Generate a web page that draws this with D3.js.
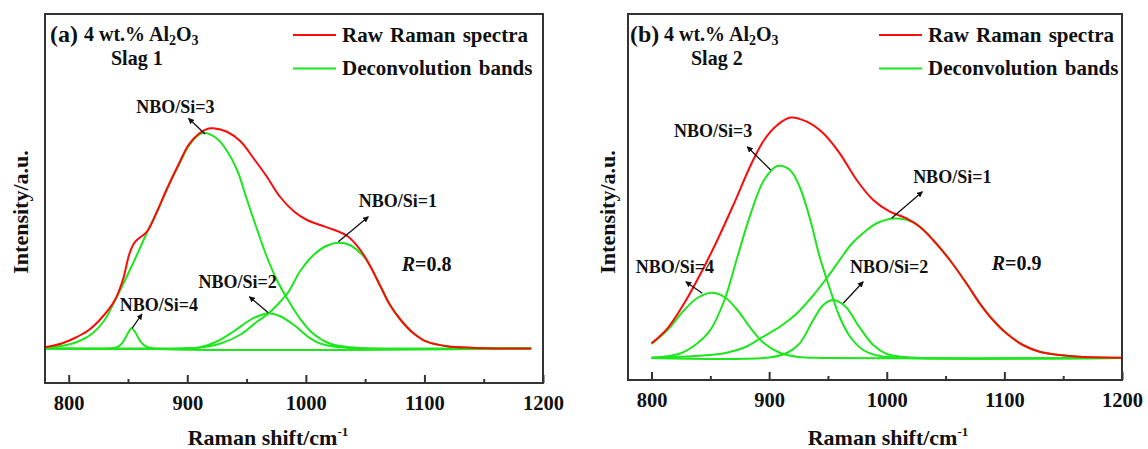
<!DOCTYPE html>
<html><head><meta charset="utf-8">
<script src="https://cdn.jsdelivr.net/npm/d3@7"></script>
<style>
html,body{margin:0;padding:0;background:#fff;}
svg{display:block;}
text{font-family:"Liberation Serif","Times New Roman",serif;font-weight:bold;fill:#111;}
</style></head><body>
<svg id="chart" width="1148" height="449"></svg>
<script>
// ---------------- data (Raman shift cm-1, intensity a.u.) ----------------
const xMajorTicks = [800, 900, 1000, 1100, 1200];
const xMinorTicks = [850, 950, 1050, 1150];
const legendLabels = ["Raw Raman spectra", "Deconvolution bands"];
const bandNames = ["NBO/Si=1", "NBO/Si=2", "NBO/Si=3", "NBO/Si=4"];
const panelNames = ["(a)", "(b)"];
const slagNames = ["Slag 1", "Slag 2"];
const rValues = ["0.8", "0.9"];

// Panel (a) – Slag 1
const rawA = [[780,1.2],[794,5],[806,11],[817,18.5],[828,31],[839,48.5],[846,70],[851,94],[855,105],[859,110],[863,113.5],[867,118.5],[875,138.5],[883,160],[893,185],[901,203.5],[910,215],[918,220],[922,220.2],[933,217],[945,207],[956,190],[967,172],[978,152],[990,137],[1001,128.5],[1012,123.5],[1023,119],[1035,112.5],[1046,98.5],[1054,83],[1063,62],[1071,43.5],[1080,28.5],[1091,15],[1102,6.8],[1119,2.3],[1139,0.7],[1160,0.1],[1190,0]];
const band1A = [[780,0],[900,0.3],[911,1],[928,5],[945,14],[959,27],[968.5,35],[977,45],[985,56],[995,77],[1006,93],[1018,103],[1027.5,105.8],[1037,103.5],[1049,91.8],[1054,83],[1063,62],[1071,43.5],[1080,28.5],[1091,15],[1102,6.8],[1119,2.3],[1139,0.7],[1160,0.1],[1190,0]];
const band2A = [[780,0],[900,0],[911,1.2],[925,7],[939,17],[953,28.5],[961,33],[968.5,35.2],[978,32.5],[990,23.5],[1001,12.5],[1012,5],[1029,1.2],[1050,0],[1190,0]];
const band3A = [[780,0],[790,2],[800,4],[810,8],[820,15],[830,28],[839,48],[853,82],[867,118.5],[875,138],[883,160],[893,184],[901,202],[908,212],[914,215.8],[925,210],[933,198.5],[942,178.5],[950,150],[959,118.5],[967,92],[975.5,68.5],[985,48.5],[995,30],[1006,15],[1020,5],[1037,1.2],[1060,0],[1190,0]];
const band4A = [[780,0],[834,0],[840,1],[844,4],[847,9],[850,15.5],[853,20.2],[856,16.5],[859,10],[862,5],[866,1.5],[872,0],[1190,0]];

// Panel (b) – Slag 2
const rawB = [[800,14.7],[813.6,29.7],[827.8,54.7],[841.9,84.7],[856,118],[870.2,154.7],[884.4,193],[895.7,218],[907,233],[918,240.5],[932,236.3],[946,224.7],[960,204.7],[974.4,178],[988.5,158],[1002.6,146.3],[1016.8,139.7],[1028,131.3],[1039.4,118],[1053.6,98],[1067.7,74.7],[1079,54.7],[1090.3,38],[1101.7,24.7],[1115.8,13],[1130,6.3],[1147,3],[1164,1.3],[1200,0.3]];
const band1B = [[800,0.5],[830,1.5],[863,5],[880,11],[893,20],[910,32],[924,45],[937,62],[949,80],[960,98],[970,114],[981,126],[992,135],[1007,139.5],[1022,136],[1035,124],[1039.4,118],[1053.6,98],[1067.7,74.7],[1079,54.7],[1090.3,38],[1101.7,24.7],[1115.8,13],[1130,6.3],[1147,3],[1164,1.3],[1200,0.3]];
const band2B = [[800,0],[900,0.5],[915,5],[926,14.7],[937.5,38],[946,53],[954.5,58],[965,51.3],[976.5,31.3],[988.5,13],[1000,4],[1015,1],[1030,0],[1200,0]];
const band3B = [[800,0],[805,0.5],[825,4.7],[839,14.7],[850,28],[862,58],[873,101],[884.4,144.7],[895.7,178],[907,192],[917.7,188],[926,171],[935,138],[943,101],[952,68],[960,41],[969,21],[980,8],[994,2],[1020,0],[1200,0]];
const band4B = [[800,14],[813.6,28],[827.8,48],[839,60],[851,65.3],[862,61],[873,48],[884.4,29.7],[895.7,14.7],[910,4.7],[925,1],[945,0],[1200,0]];

// ---------------- layout ----------------
const RED = "#ff0a0a", GREEN = "#1de61d";
const panels = [
  { raw: rawA, bands: [band1A, band2A, band3A, band4A],
    left: 45, right: 543, top: 14, bottom: 383, yDomain: [-34.5, 334.5],
    xTitleX: 268, yTitleX: 20, headerX: 50, legendX: 293,
    notes: [[2, 890, 235.5, 915, 214.5, 901, 230.2],
            [3, 876, 37.8, 853.4, 20.2, 861.8, 34.5],
            [1, 942.4, 60.2, 968.3, 35.8, 952.3, 51.8],
            [0, 1077.7, 141.8, 1027.4, 106.8, 1052.7, 131.8]],
    rPos: [1080.8, 77.8] },
  { raw: rawB, bands: [band1B, band2B, band3B, band4B],
    left: 628, right: 1122, top: 14, bottom: 380, yDomain: [-22, 344],
    xTitleX: 888, yTitleX: 607, headerX: 630, legendX: 879,
    notes: [[2, 852.4, 220.7, 901.3, 188, 881.4, 211.3],
            [3, 819.9, 84.7, 843.2, 64.7, 829.1, 76.3],
            [1, 1002.1, 84.7, 963, 54.7, 980, 76.3],
            [0, 1055.7, 175.3, 1004.1, 139.7, 1030.3, 166.3]],
    rPos: [1089.2, 88] }
];

const svg = d3.select("#chart");
const defs = svg.append("defs");
defs.append("marker").attr("id", "arrow").attr("viewBox", "0 0 10 10")
  .attr("refX", 9).attr("refY", 5).attr("markerWidth", 6).attr("markerHeight", 6)
  .attr("markerUnits", "userSpaceOnUse").attr("orient", "auto")
  .append("path").attr("d", "M0,0 L10,5 L0,10 z").attr("fill", "#111");

panels.forEach((p, i) => {
  const g = svg.append("g");
  const x = d3.scaleLinear().domain([780, 1200]).range([p.left, p.right]);
  const y = d3.scaleLinear().domain(p.yDomain).range([p.bottom, p.top]);
  const line = d3.line().x(d => x(d[0])).y(d => y(d[1])).curve(d3.curveCatmullRom.alpha(0.5));

  p.bands.forEach(b => {
    g.append("path").datum(b).attr("d", line).attr("fill", "none")
      .attr("stroke", GREEN).attr("stroke-width", 2);
  });
  g.append("path").datum(p.raw).attr("d", line).attr("fill", "none")
    .attr("stroke", RED).attr("stroke-width", 2);

  const axMajor = g.append("g").attr("transform", `translate(0,${p.bottom})`)
    .call(d3.axisBottom(x).tickValues(xMajorTicks).tickSize(-8).tickPadding(12.5).tickFormat(d3.format("d")));
  axMajor.select(".domain").remove();
  axMajor.attr("font-family", null).attr("font-size", null);
  axMajor.selectAll("line").attr("stroke", "#333").attr("stroke-width", 2);
  axMajor.selectAll("text").style("font-size", "20.5px").attr("fill", "#111");
  const axMinor = g.append("g").attr("transform", `translate(0,${p.bottom})`)
    .call(d3.axisBottom(x).tickValues(xMinorTicks).tickSize(-4).tickFormat(""));
  axMinor.select(".domain").remove();
  axMinor.selectAll("line").attr("stroke", "#333").attr("stroke-width", 2);

  g.append("rect").attr("x", p.left).attr("y", p.top)
    .attr("width", p.right - p.left).attr("height", p.bottom - p.top)
    .attr("fill", "none").attr("stroke", "#333").attr("stroke-width", 2);

  const xt = g.append("text").attr("x", p.xTitleX).attr("y", 445)
    .attr("text-anchor", "middle").style("font-size", "22px");
  xt.append("tspan").text("Raman shift/cm");
  xt.append("tspan").attr("dy", -9).style("font-size", "13px").text("-1");
  g.append("text").attr("transform", `translate(${p.yTitleX},${212}) rotate(-90)`)
    .attr("text-anchor", "middle").attr("dy", "0.35em").style("font-size", "22px")
    .text("Intensity/a.u.");

  g.append("text").attr("x", p.headerX).attr("y", 42).style("font-size", "24px").text(panelNames[i]);
  const h = g.append("text").attr("x", p.headerX + 34).attr("y", 41).style("font-size", "20px");
  h.append("tspan").text("4 wt.% Al");
  h.append("tspan").attr("dy", 4).style("font-size", "14px").text("2");
  h.append("tspan").attr("dy", -4).text("O");
  h.append("tspan").attr("dy", 4).style("font-size", "14px").text("3");
  g.append("text").attr("x", p.headerX + 61).attr("y", 65).style("font-size", "20px").text(slagNames[i]);

  [RED, GREEN].forEach((c, k) => {
    const ly = 35 + k * 33.5;
    g.append("line").attr("x1", p.legendX).attr("x2", p.legendX + 43)
      .attr("y1", ly).attr("y2", ly).attr("stroke", c).attr("stroke-width", 2);
    g.append("text").attr("x", p.legendX + 49).attr("y", ly + 6.5)
      .style("font-size", "21px").style("word-spacing", "2px").text(legendLabels[k]);
  });

  p.notes.forEach(n => {
    g.append("text").attr("x", x(n[1])).attr("y", y(n[2])).attr("text-anchor", "middle")
      .style("font-size", "18px").text(bandNames[n[0]]);
    g.append("line").attr("x1", x(n[3])).attr("y1", y(n[4])).attr("x2", x(n[5])).attr("y2", y(n[6]))
      .attr("stroke", "#111").attr("stroke-width", 1.3).attr("marker-end", "url(#arrow)");
  });
  const rt = g.append("text").attr("x", x(p.rPos[0])).attr("y", y(p.rPos[1])).style("font-size", "20px");
  rt.append("tspan").style("font-style", "italic").text("R");
  rt.append("tspan").text("=" + rValues[i]);
});
</script>
</body></html>
